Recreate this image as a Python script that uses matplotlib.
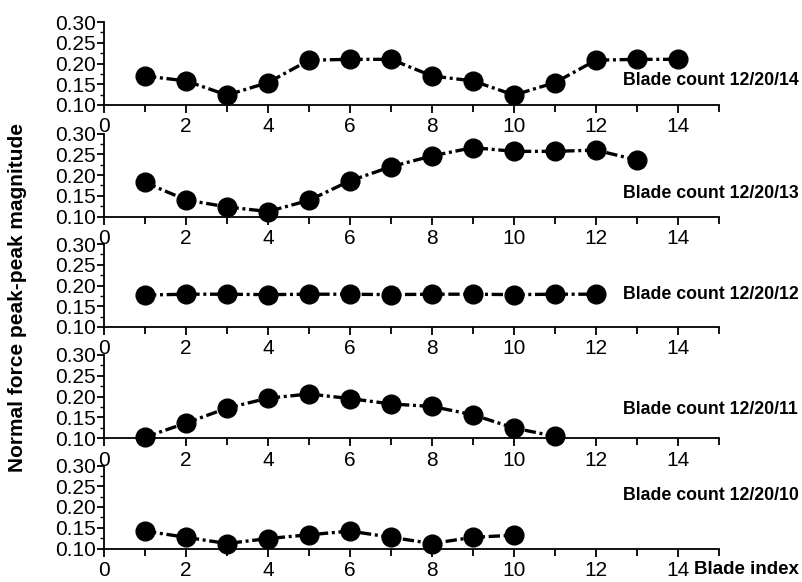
import matplotlib
matplotlib.use('Agg')
import matplotlib.pyplot as plt
from matplotlib.ticker import MultipleLocator

plt.rcParams['font.family'] = ['Liberation Sans', 'DejaVu Sans']

# Data: blade index vs normal force peak-peak magnitude
labels = ['Blade count 12/20/14', 'Blade count 12/20/13', 'Blade count 12/20/12',
          'Blade count 12/20/11', 'Blade count 12/20/10']

y14 = [0.170, 0.158, 0.124, 0.154, 0.208, 0.210, 0.210, 0.170, 0.158, 0.124, 0.154, 0.208, 0.210, 0.210]
y13 = [0.182, 0.140, 0.123, 0.112, 0.139, 0.186, 0.220, 0.246, 0.266, 0.257, 0.257, 0.260, 0.236]
y12 = [0.177, 0.179, 0.179, 0.178, 0.179, 0.179, 0.178, 0.179, 0.179, 0.178, 0.179, 0.179]
y11 = [0.102, 0.136, 0.172, 0.196, 0.206, 0.195, 0.182, 0.176, 0.156, 0.124, 0.104]
y10 = [0.142, 0.127, 0.112, 0.124, 0.133, 0.142, 0.127, 0.112, 0.127, 0.132]
series = [y14, y13, y12, y11, y10]

# vertical position of the label in each panel (data units)
label_y = [0.158, 0.155, 0.178, 0.168, 0.228]

W, H = 803, 582
fig = plt.figure(figsize=(W / 100, H / 100), dpi=100)

left_px, right_px = 104, 719
bottoms_px = [105, 216.5, 327, 438, 548.5]
height_px = 83

for i, ys in enumerate(series):
    b = bottoms_px[i]
    ax = fig.add_axes([left_px / W, 1 - b / H, (right_px - left_px) / W, height_px / H])
    xs = list(range(1, len(ys) + 1))
    ax.plot(xs, ys, color='black', lw=2.4, linestyle=(0, (3.4, 1.1, 0.9, 1.1)),
            marker='o', markersize=13.5, clip_on=False, zorder=3)
    ax.set_xlim(0, 15)
    ax.set_ylim(0.10, 0.30)
    ax.spines['top'].set_visible(False)
    ax.spines['right'].set_visible(False)
    ax.spines['left'].set_linewidth(1.3)
    ax.spines['bottom'].set_linewidth(1.3)
    ax.set_xticks(range(0, 15, 2))
    ax.xaxis.set_minor_locator(MultipleLocator(1))
    ax.set_yticks([0.10, 0.15, 0.20, 0.25, 0.30])
    ax.yaxis.set_minor_locator(MultipleLocator(0.025))
    ax.set_yticklabels(['0.10', '0.15', '0.20', '0.25', '0.30'])
    ax.tick_params(axis='both', which='major', direction='out', width=1.3, labelsize=15, color='black')
    ax.tick_params(axis='x', which='major', length=6, pad=3)
    ax.tick_params(axis='x', which='minor', length=5, width=1.3)
    ax.tick_params(axis='y', which='major', length=5, pad=1)
    ax.tick_params(axis='y', which='minor', length=3, width=1.0)
    ax.patch.set_alpha(0)
    ax.text(12.65, label_y[i], labels[i], fontsize=12.8, fontweight='bold',
            ha='left', va='center', clip_on=False)

fig.text(18 / W, 1 - 298 / H, 'Normal force peak-peak magnitude', rotation=90,
         fontsize=15, fontweight='bold', ha='center', va='center')
fig.text(694 / W, 1 - 569 / H, 'Blade index', fontsize=13.5, fontweight='bold',
         ha='left', va='center')

fig.savefig('out.png', dpi=100)
